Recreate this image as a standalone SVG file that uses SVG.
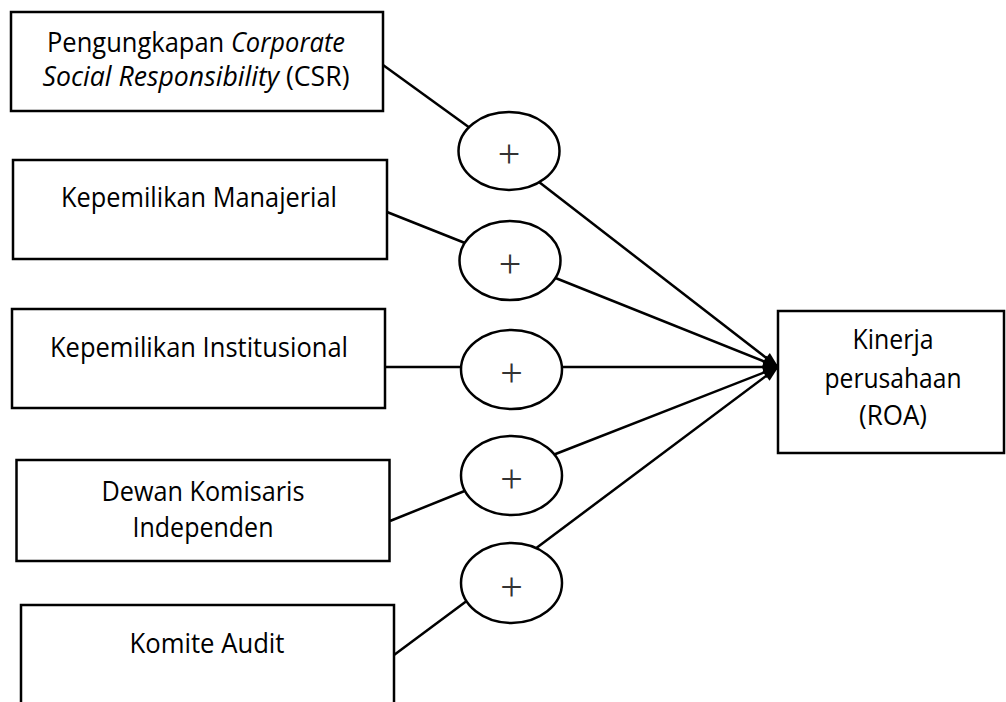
<svg xmlns="http://www.w3.org/2000/svg" width="1006" height="702" viewBox="0 0 1006 702">
  <style>
    .box { fill: #ffffff; stroke: #000000; stroke-width: 2.5; }
    .oval { fill: #ffffff; stroke: #000000; stroke-width: 2.5; }
    .lbl { font-family: "Open Sans", "Liberation Sans", sans-serif; font-size: 27px; fill: #000000; text-anchor: middle; }
    .plus { font-family: "Liberation Serif", serif; font-size: 40px; fill: #333333; text-anchor: middle; }
    .conn { fill: none; stroke: #000000; stroke-width: 2.5; }
  </style>
  <defs>
    <marker id="arrow" markerUnits="userSpaceOnUse" viewBox="-1 -7 19 14" markerWidth="19" markerHeight="14" refX="15" refY="0" orient="auto">
      <path d="M0,-6 L16,0 L0,6 z" fill="#000000"/>
    </marker>
  </defs>
  <rect width="1006" height="702" fill="#ffffff"/>

  <g id="connectors">
    <line class="conn" x1="383" y1="65" x2="470" y2="128"/>
    <line class="conn" x1="387" y1="212" x2="465" y2="243"/>
    <line class="conn" x1="385" y1="367" x2="463" y2="367"/>
    <line class="conn" x1="390" y1="521" x2="467" y2="490"/>
    <line class="conn" x1="394" y1="655" x2="468" y2="600"/>
    <line class="conn" x1="539" y1="182" x2="778" y2="367" marker-end="url(#arrow)"/>
    <line class="conn" x1="553" y1="277" x2="778" y2="367" marker-end="url(#arrow)"/>
    <line class="conn" x1="560" y1="367" x2="778" y2="367" marker-end="url(#arrow)"/>
    <line class="conn" x1="553" y1="455" x2="778" y2="367" marker-end="url(#arrow)"/>
    <line class="conn" x1="535" y1="549" x2="778" y2="367" marker-end="url(#arrow)"/>
  </g>

  <g id="csr">
    <rect class="box" x="11" y="12" width="372" height="99"/>
    <text class="lbl" x="196" y="52" textLength="298" lengthAdjust="spacingAndGlyphs">Pengungkapan <tspan font-style="italic">Corporate</tspan></text>
    <text class="lbl" x="196" y="86" textLength="307" lengthAdjust="spacingAndGlyphs"><tspan font-style="italic">Social Responsibility</tspan> (CSR)</text>
  </g>
  <g id="manajerial">
    <rect class="box" x="13" y="160" width="374" height="99"/>
    <text class="lbl" x="199" y="207" textLength="276" lengthAdjust="spacingAndGlyphs">Kepemilikan Manajerial</text>
  </g>
  <g id="institusional">
    <rect class="box" x="12" y="309" width="373" height="99"/>
    <text class="lbl" x="199" y="357" textLength="298" lengthAdjust="spacingAndGlyphs">Kepemilikan Institusional</text>
  </g>
  <g id="dewan">
    <rect class="box" x="16.5" y="460" width="373" height="101"/>
    <text class="lbl" x="203" y="501" textLength="203" lengthAdjust="spacingAndGlyphs">Dewan Komisaris</text>
    <text class="lbl" x="203" y="537" textLength="141" lengthAdjust="spacingAndGlyphs">Independen</text>
  </g>
  <g id="komite">
    <rect class="box" x="21" y="605" width="373" height="120"/>
    <text class="lbl" x="207" y="653" textLength="155" lengthAdjust="spacingAndGlyphs">Komite Audit</text>
  </g>
  <g id="kinerja">
    <rect class="box" x="778" y="311" width="226" height="142"/>
    <text class="lbl" x="893" y="349" textLength="81" lengthAdjust="spacingAndGlyphs">Kinerja</text>
    <text class="lbl" x="893" y="388" textLength="137" lengthAdjust="spacingAndGlyphs">perusahaan</text>
    <text class="lbl" x="893" y="425" textLength="68" lengthAdjust="spacingAndGlyphs">(ROA)</text>
  </g>

  <g id="oval1">
    <ellipse class="oval" cx="509" cy="151" rx="50.5" ry="39"/>
    <text class="plus" x="509" y="167">+</text>
  </g>
  <g id="oval2">
    <ellipse class="oval" cx="510" cy="260.5" rx="50.5" ry="39.5"/>
    <text class="plus" x="510" y="277">+</text>
  </g>
  <g id="oval3">
    <ellipse class="oval" cx="511.5" cy="369.5" rx="50.5" ry="39.5"/>
    <text class="plus" x="511.5" y="386">+</text>
  </g>
  <g id="oval4">
    <ellipse class="oval" cx="511.5" cy="475.5" rx="50.5" ry="39.5"/>
    <text class="plus" x="511.5" y="492">+</text>
  </g>
  <g id="oval5">
    <ellipse class="oval" cx="511.5" cy="583" rx="50.5" ry="40"/>
    <text class="plus" x="511.5" y="599.5">+</text>
  </g>
</svg>
